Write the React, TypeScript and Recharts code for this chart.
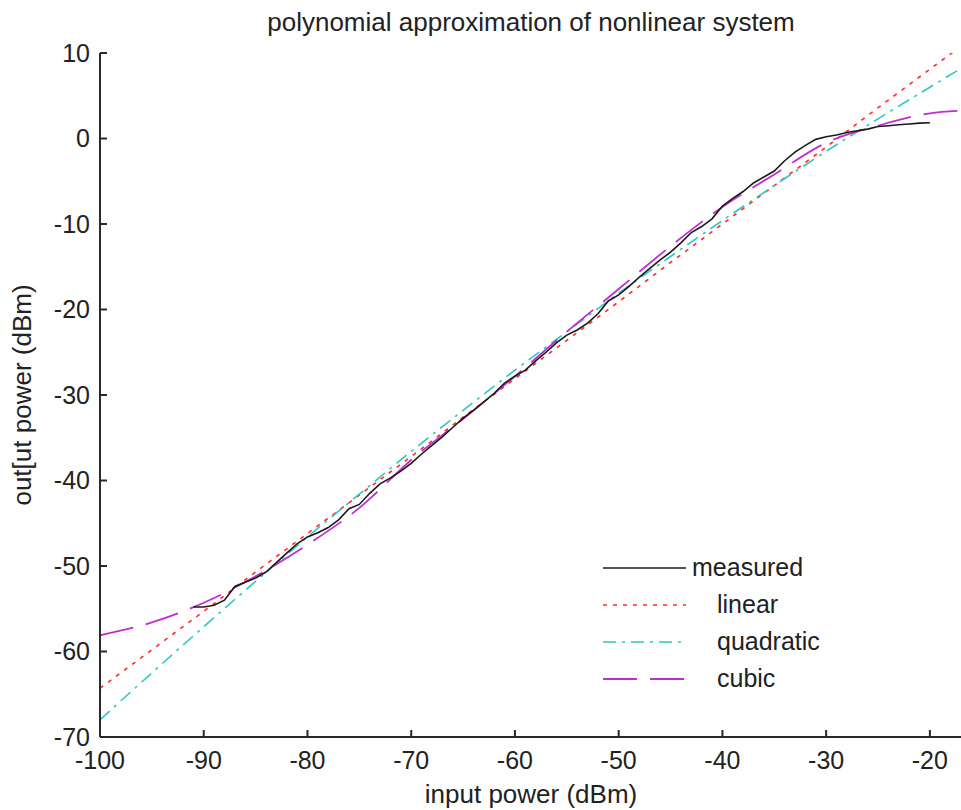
import React from "react";
import { LineChart, Line, XAxis, YAxis, Legend } from "recharts";

// measured amplifier response (input dBm -> output dBm)
const MEASURED_IN = [
  -91, -90, -89, -88, -87, -86, -85, -84, -83, -82, -81, -80, -79, -78, -77,
  -76, -75, -74, -73, -72, -71, -70, -69, -68, -67, -66, -65, -64, -63, -62,
  -61, -60, -59, -58, -57, -56, -55, -54, -53, -52, -51, -50, -49, -48, -47,
  -46, -45, -44, -43, -42, -41, -40, -39, -38, -37, -36, -35, -34, -33, -32,
  -31, -30, -29, -28, -27, -26, -25, -24, -23, -22, -21, -20,
];
const MEASURED_OUT = [
  -54.8, -54.8, -54.6, -54.0, -52.4, -51.9, -51.4, -50.7, -49.6, -48.5, -47.4,
  -46.6, -46.1, -45.5, -44.6, -43.3, -42.8, -41.5, -40.4, -39.7, -38.9, -38.0,
  -36.9, -35.9, -34.9, -33.8, -32.7, -31.8, -30.8, -29.8, -28.6, -27.8, -27.1,
  -26.0, -25.0, -23.9, -23.0, -22.4, -21.6, -20.5, -19.0, -18.3, -17.3, -16.2,
  -15.2, -14.2, -13.3, -12.2, -11.0, -10.3, -9.4, -7.9, -7.0, -6.2, -5.2, -4.5,
  -3.8, -2.6, -1.6, -0.8, -0.1, 0.2, 0.4, 0.7, 0.9, 1.1, 1.4, 1.5, 1.6, 1.7,
  1.8, 1.85,
];

// fitted polynomials, sampled across the full input range
const FIT_IN = [
  -100, -95, -90, -85, -80, -75, -70, -65, -60, -55, -50, -45, -40, -35, -30,
  -25, -20, -17,
];
const LINEAR_OUT = [
  -64.3, -59.8, -55.3, -50.7, -46.2, -41.7, -37.2, -32.6, -28.1, -23.6, -19.1,
  -14.5, -10.0, -5.5, -1.0, 3.6, 8.1, 10.8,
];
const QUADRATIC_OUT = [
  -68.0, -62.5, -57.1, -51.8, -46.6, -41.6, -36.6, -31.8, -27.1, -22.6, -18.1,
  -13.8, -9.6, -5.5, -1.5, 2.3, 6.0, 8.2,
];
const CUBIC_OUT = [
  -58.1, -56.6, -54.3, -51.2, -47.5, -43.2, -37.6, -32.8, -27.8, -22.6, -17.6,
  -12.6, -8.0, -4.2, -0.5, 1.5, 2.95, 3.25,
];

const X_TICKS = [-100, -90, -80, -70, -60, -50, -40, -30, -20];
const Y_TICKS = [-70, -60, -50, -40, -30, -20, -10, 0, 10];

const SERIES_NAMES = ["measured", "linear", "quadratic", "cubic"];

const pair = (xs: number[], ys: number[]) =>
  xs.map((x, i) => ({ x, y: ys[i] }));

const measured = pair(MEASURED_IN, MEASURED_OUT);
const linear = pair(FIT_IN, LINEAR_OUT);
const quadratic = pair(FIT_IN, QUADRATIC_OUT);
const cubic = pair(FIT_IN, CUBIC_OUT);

const FONT = "'Liberation Sans', Arial, sans-serif";
const TEXT = "#222";
const AXIS = "#2a2a2a";

const lineStyles: Record<string, { stroke: string; dash?: string; width: number }> = {
  measured: { stroke: "#1a1a1a", width: 1.6 },
  linear: { stroke: "#ff2a2a", dash: "4 6", width: 1.6 },
  quadratic: { stroke: "#2ec6c6", dash: "13 6 3 6", width: 1.6 },
  cubic: { stroke: "#c12ed0", dash: "34 13", width: 1.8 },
};

const tickStyle = { fontSize: 25, fill: TEXT, fontFamily: FONT };

function LegendBox() {
  return (
    <div style={{ fontFamily: FONT, fontSize: 25, color: TEXT }}>
      {SERIES_NAMES.map((name, i) => {
        const s = lineStyles[name];
        return (
          <div
            key={name}
            style={{ display: "flex", alignItems: "center", height: 37 }}
          >
            <svg width={83} height={10} style={{ flex: "none" }}>
              <line
                x1={0}
                y1={5}
                x2={83}
                y2={5}
                stroke={s.stroke}
                strokeWidth={s.width}
                strokeDasharray={s.dash}
              />
            </svg>
            <span style={{ marginLeft: i === 0 ? 6 : 31, lineHeight: "37px" }}>
              {name}
            </span>
          </div>
        );
      })}
    </div>
  );
}

export default function App() {
  return (
    <div
      style={{
        position: "absolute",
        left: 0,
        top: 0,
        width: 961,
        height: 810,
        background: "#fff",
        overflow: "hidden",
        fontFamily: FONT,
        color: TEXT,
      }}
    >
      <div
        style={{
          position: "absolute",
          left: 100,
          width: 862,
          top: 6,
          textAlign: "center",
          fontSize: 26,
          lineHeight: "32px",
        }}
      >
        polynomial approximation of nonlinear system
      </div>
      <div
        style={{
          position: "absolute",
          left: 100,
          width: 862,
          top: 778,
          textAlign: "center",
          fontSize: 26,
          lineHeight: "32px",
        }}
      >
        input power (dBm)
      </div>
      <div
        style={{
          position: "absolute",
          left: 22,
          top: 395,
          width: 400,
          marginLeft: -200,
          marginTop: -16,
          textAlign: "center",
          fontSize: 26,
          lineHeight: "32px",
          transform: "rotate(-90deg)",
        }}
      >
        out[ut power (dBm)
      </div>

      <div style={{ position: "absolute", left: 0, top: 0 }}>
        <LineChart
          width={961}
          height={810}
          margin={{ top: 53, right: 0, bottom: 33, left: 40 }}
        >
          <XAxis
            type="number"
            dataKey="x"
            domain={[-100, -17]}
            ticks={X_TICKS}
            allowDataOverflow
            height={40}
            tick={tickStyle}
            tickSize={-7}
            tickMargin={21}
            stroke={AXIS}
            strokeWidth={2}
          />
          <XAxis
            xAxisId="top"
            orientation="top"
            type="number"
            dataKey="x"
            domain={[-100, -17]}
            ticks={X_TICKS}
            allowDataOverflow
            height={0}
            tickFormatter={() => ""}
            tickSize={-7}
            stroke={AXIS}
            strokeWidth={2}
          />
          <YAxis
            type="number"
            dataKey="y"
            domain={[-70, 10]}
            ticks={Y_TICKS}
            allowDataOverflow
            width={60}
            tick={tickStyle}
            tickSize={-7}
            tickMargin={17}
            stroke={AXIS}
            strokeWidth={2}
          />
          <Legend
            layout="vertical"
            align="center"
            verticalAlign="middle"
            wrapperStyle={{ left: 603, top: 549, width: 240 }}
            content={() => <LegendBox />}
          />
          <Line
            data={linear}
            dataKey="y"
            name="linear"
            type="linear"
            stroke={lineStyles.linear.stroke}
            strokeWidth={lineStyles.linear.width}
            strokeDasharray={lineStyles.linear.dash}
            dot={false}
            activeDot={false}
            isAnimationActive={false}
          />
          <Line
            data={quadratic}
            dataKey="y"
            name="quadratic"
            type="monotone"
            stroke={lineStyles.quadratic.stroke}
            strokeWidth={lineStyles.quadratic.width}
            strokeDasharray={lineStyles.quadratic.dash}
            dot={false}
            activeDot={false}
            isAnimationActive={false}
          />
          <Line
            data={cubic}
            dataKey="y"
            name="cubic"
            type="monotone"
            stroke={lineStyles.cubic.stroke}
            strokeWidth={lineStyles.cubic.width}
            strokeDasharray={lineStyles.cubic.dash}
            dot={false}
            activeDot={false}
            isAnimationActive={false}
          />
          <Line
            data={measured}
            dataKey="y"
            name="measured"
            type="linear"
            stroke={lineStyles.measured.stroke}
            strokeWidth={lineStyles.measured.width}
            dot={false}
            activeDot={false}
            isAnimationActive={false}
          />
        </LineChart>
      </div>
    </div>
  );
}
